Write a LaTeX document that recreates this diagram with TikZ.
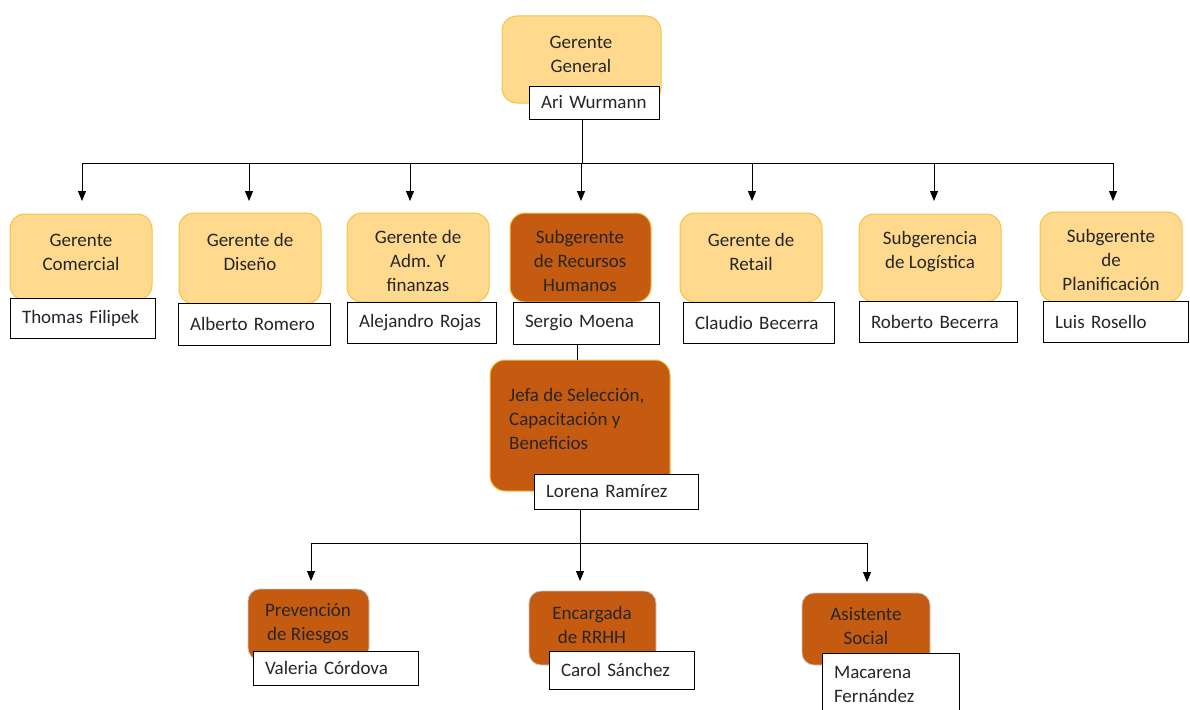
\documentclass[tikz,border=0pt]{standalone}
\usepackage{fontspec}
\setmainfont{Carlito}
\usetikzlibrary{arrows.meta}
\definecolor{lightor}{HTML}{FFD98E}
\definecolor{goldb}{HTML}{F5C342}
\definecolor{darkor}{HTML}{C55A11}
\definecolor{txt}{HTML}{262626}
\begin{document}
\begin{tikzpicture}[x=1pt,y=-1pt,
  font=\fontsize{19}{24}\selectfont,
  lt/.style={draw=goldb, fill=lightor, rounded corners=15pt, line width=1pt, inner sep=0pt},
  dk/.style={draw=goldb, fill=darkor, rounded corners=15pt, line width=1pt, inner sep=0pt},
  dkb/.style={draw=gray!45, fill=darkor, rounded corners=12pt, line width=0.8pt, inner sep=0pt},
  nm/.style={draw=black, fill=white, line width=1pt, inner xsep=12pt, inner ysep=0pt, align=left, text=txt},
  tx/.style={align=center, inner sep=0pt, text=txt},
  arr/.style={-{Triangle[width=8pt,length=10pt]}, line width=1pt},
  ln/.style={line width=1pt}]
\useasboundingbox (0,0) rectangle (1190,709);
\clip (0,0) rectangle (1190,709);

% ---- top
\node[lt, minimum width=159pt, minimum height=87pt] (gg) at (581.5,59.5) {};
\node[tx] (ggt) at (581,54) {Gerente\\General};
\node[nm, text width=106pt, minimum height=33pt] (ari) at (594,102.5) {Ari Wurmann};

% ---- second row boxes
\node[lt, minimum width=142pt, minimum height=86pt] (gc) at (81,257) {};
\node[tx] (gct) at (81,252) {Gerente\\Comercial};
\node[nm, text width=121pt, minimum height=40pt] (tf) at (82.5,318) {Thomas Filipek};

\node[lt, minimum width=142pt, minimum height=91pt] (gd) at (250,258.5) {};
\node[tx] (gdt) at (250,252) {Gerente de\\Diseño};
\node[nm, text width=128pt, minimum height=42pt] (ar) at (254,324) {Alberto Romero};

\node[lt, minimum width=142pt, minimum height=89pt] (ga) at (418,257.5) {};
\node[tx] (gat) at (418,260.5) {Gerente de\\Adm. Y\\finanzas};
\node[nm, text width=125pt, minimum height=41pt] (aro) at (421.5,322.5) {Alejandro Rojas};

\node[dk, minimum width=141pt, minimum height=89pt] (gr) at (580.5,257.5) {};
\node[tx] (grt) at (580,260.5) {Subgerente\\de Recursos\\Humanos};
\node[nm, text width=122pt, minimum height=42pt] (sm) at (586,323) {Sergio Moena};

\node[lt, minimum width=142pt, minimum height=89pt] (gt) at (751,257.5) {};
\node[tx] (gtt) at (751,252) {Gerente de\\Retail};
\node[nm, text width=127pt, minimum height=41pt] (cb) at (758.5,322.5) {Claudio Becerra};

\node[lt, minimum width=142pt, minimum height=88pt] (gl) at (930,258) {};
\node[tx] (glt) at (930,252) {Subgerencia\\de Logística};
\node[nm, text width=134pt, minimum height=41pt] (rb) at (938,321.5) {Roberto Becerra};

\node[lt, minimum width=142pt, minimum height=90pt] (gp) at (1111,257) {};
\node[tx] (gpt) at (1111,259.5) {Subgerente\\de\\Planificación};
\node[nm, text width=121pt, minimum height=41pt] (lro) at (1115.5,321.5) {Luis Rosello};

% ---- Jefa
\node[dk, minimum width=180pt, minimum height=131pt] (jf) at (580,425.5) {};
\node[tx, align=left, anchor=west] (jft) at (509,419) {Jefa de Selección,\\Capacitación y\\Beneficios};
\node[nm, text width=140pt, minimum height=35pt] (lr) at (616,491.5) {Lorena Ramírez};

% ---- bottom row
\node[dkb, minimum width=121pt, minimum height=71pt] (pr) at (308.5,624.5) {};
\node[tx] (prt) at (308,623.5) {Prevención\\de Riesgos};
\node[nm, text width=141pt, minimum height=34pt] (vc) at (335.5,668) {Valeria Córdova};

\node[dkb, minimum width=127pt, minimum height=74pt] (en) at (592.5,628) {};
\node[tx] (ent) at (592,625) {Encargada\\de RRHH};
\node[nm, text width=121pt, minimum height=38pt] (cs) at (621.5,670) {Carol Sánchez};

\node[dkb, minimum width=128pt, minimum height=72pt] (as) at (866,629) {};
\node[tx] (ast) at (866,626.5) {Asistente\\Social};
\node[nm, text width=113pt, minimum height=62pt] (mf) at (890.5,684) {Macarena\\Fernández};

% ---- connectors, top level
\coordinate (bus) at (582,163);
\coordinate (a1) at (82,201);
\coordinate (a2) at (249,201);
\coordinate (a3) at (410,201);
\coordinate (a4) at (581,201);
\coordinate (a5) at (752,201);
\coordinate (a6) at (934,201);
\coordinate (a7) at (1113,201);
\draw[ln] (bus |- ari.south) -- (bus);
\draw[ln] (a1 |- bus) -- (a7 |- bus);
\foreach \c in {a1,a2,a3,a4,a5,a6,a7} \draw[arr] (\c |- bus) -- (\c);

% ---- RRHH branch
\coordinate (rhx) at (577,0);
\draw[ln] (rhx |- sm.south) -- (rhx |- jf.north);
\coordinate (bus2) at (580,543);
\coordinate (b1) at (311,581);
\coordinate (b2) at (580,581);
\coordinate (b3) at (867,582);
\draw[ln] (bus2 |- lr.south) -- (bus2);
\draw[arr] (bus2) -| (b1);
\draw[arr] (bus2) -- (b2);
\draw[arr] (bus2) -| (b3);
\end{tikzpicture}
\end{document}
